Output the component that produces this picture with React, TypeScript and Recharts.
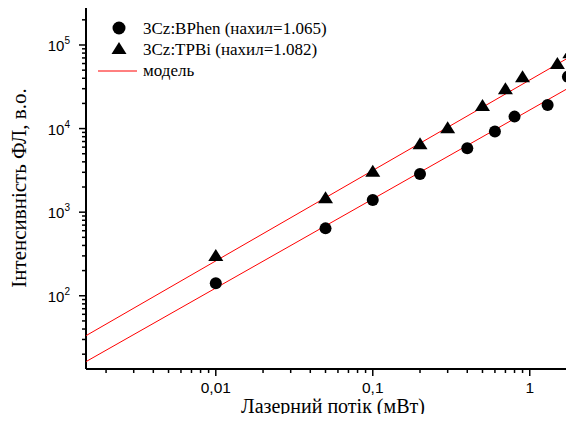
import { ComposedChart, Scatter, XAxis, YAxis, Legend } from "recharts";

// measured points (power in mW, PL intensity in a.u.)
const bphenX = [0.01, 0.05, 0.1, 0.2, 0.4, 0.6, 0.8, 1.3, 1.75];
const bphenY = [141, 640, 1400, 2860, 5800, 9200, 13900, 19100, 41800];
const tpbiX = [0.01, 0.05, 0.1, 0.2, 0.3, 0.5, 0.7, 0.9, 1.5, 1.8];
const tpbiY = [300, 1470, 3050, 6500, 10100, 18600, 29500, 41100, 59300, 79600];

// model lines (end points across the plot)
const modelX = [0.00149, 2];
const bphenModelY = [16.3, 34900];
const tpbiModelY = [33.3, 80700];

const xMajor = [0.01, 0.1, 1];
const xLabels = ["0,01", "0,1", "1"];
const xTicks = [
  0.002, 0.003, 0.004, 0.005, 0.006, 0.007, 0.008, 0.009, 0.01,
  0.02, 0.03, 0.04, 0.05, 0.06, 0.07, 0.08, 0.09, 0.1,
  0.2, 0.3, 0.4, 0.5, 0.6, 0.7, 0.8, 0.9, 1, 2,
];
const yMajor = [100, 1000, 10000, 100000];
const yExp = ["2", "3", "4", "5"];
const yTicks = [
  20, 30, 40, 50, 60, 70, 80, 90, 100,
  200, 300, 400, 500, 600, 700, 800, 900, 1000,
  2000, 3000, 4000, 5000, 6000, 7000, 8000, 9000, 10000,
  20000, 30000, 40000, 50000, 60000, 70000, 80000, 90000, 100000, 200000,
];

const legendNames = ["3Cz:BPhen (нахил=1.065)", "3Cz:TPBi (нахил=1.082)", "модель"];
const xTitle = "Лазерний потік (мВт)";
const yTitle = "Інтенсивність ФЛ, в.о.";

const zip = (xs, ys) => xs.map((x, i) => ({ x, y: ys[i] }));
const bphenData = zip(bphenX, bphenY);
const tpbiData = zip(tpbiX, tpbiY);
const bphenModel = zip(modelX, bphenModelY);
const tpbiModel = zip(modelX, tpbiModelY);

const SANS = "'Liberation Sans', Arial, sans-serif";
const SERIF = "'Liberation Serif', 'Times New Roman', serif";

const Dot = ({ cx, cy }) => <circle cx={cx} cy={cy} r={6} fill="#000" />;
const Tri = ({ cx, cy }) => (
  <path d={`M${cx},${cy - 7} L${cx + 7.5},${cy + 5} L${cx - 7.5},${cy + 5} Z`} fill="#000" />
);
const NoDot = () => null;

const XTick = ({ x, y, payload }) => {
  const i = xMajor.indexOf(payload.value);
  return (
    <g>
      <line x1={x} x2={x} y1={y} y2={y + (i >= 0 ? 7 : 4)} stroke="#000" strokeWidth={1.5} />
      {i >= 0 && (
        <text x={x} y={y + 24} textAnchor="middle" fontFamily={SANS} fontSize={15.5} fill="#000">
          {xLabels[i]}
        </text>
      )}
    </g>
  );
};

const YTick = ({ x, y, payload }) => {
  const i = yMajor.indexOf(payload.value);
  return (
    <g>
      <line x1={x} x2={x - (i >= 0 ? 7 : 4)} y1={y} y2={y} stroke="#000" strokeWidth={1.5} />
      {i >= 0 && (
        <text x={x - 16} y={y + 6} textAnchor="end" fontFamily={SANS} fontSize={15} fill="#000">
          10<tspan dy={-7} fontSize={10}>{yExp[i]}</tspan>
        </text>
      )}
    </g>
  );
};

const LegendBox = () => (
  <svg width={260} height={80}>
    <circle cx={29} cy={18} r={6.5} fill="#000" />
    <path d="M29,32 L36.5,44 L21.5,44 Z" fill="#000" />
    <line x1={8} x2={47} y1={61} y2={61} stroke="#ff0000" strokeWidth={1} />
    {legendNames.map((n, i) => (
      <text key={n} x={53} y={24 + i * 21} fontFamily={SERIF} fontSize={17} fill="#000">
        {n}
      </text>
    ))}
  </svg>
);

export default function App() {
  return (
    <div
      style={{ margin: -8, width: 574, height: 422, overflow: "hidden", background: "#fff", position: "relative" }}
    >
      <ComposedChart width={600} height={422} margin={{ top: 8, right: 23, bottom: 23, left: 40 }}>
        <XAxis
          dataKey="x"
          type="number"
          scale="log"
          domain={[0.00149, 2]}
          allowDataOverflow
          ticks={xTicks}
          interval={0}
          tick={XTick}
          tickLine={false}
          tickSize={0}
          tickMargin={0}
          height={30}
          axisLine={{ stroke: "#000", strokeWidth: 2 }}
        />
        <XAxis
          xAxisId="top"
          orientation="top"
          dataKey="x"
          type="number"
          scale="log"
          domain={[0.00149, 2]}
          allowDataOverflow
          tick={false}
          tickLine={false}
          height={0}
          axisLine={{ stroke: "#000", strokeWidth: 2 }}
        />
        <YAxis
          dataKey="y"
          type="number"
          scale="log"
          domain={[13.3, 277000]}
          allowDataOverflow
          ticks={yTicks}
          interval={0}
          tick={YTick}
          tickLine={false}
          tickSize={0}
          tickMargin={0}
          width={46}
          axisLine={{ stroke: "#000", strokeWidth: 2 }}
        />
        <Legend
          layout="horizontal"
          verticalAlign="middle"
          align="center"
          content={() => <LegendBox />}
          wrapperStyle={{ left: 90, top: 10, width: 260, height: 80 }}
        />
        <Scatter data={bphenModel} shape={NoDot} line={{ stroke: "#ff0000", strokeWidth: 1 }} isAnimationActive={false} />
        <Scatter data={tpbiModel} shape={NoDot} line={{ stroke: "#ff0000", strokeWidth: 1 }} isAnimationActive={false} />
        <Scatter data={bphenData} shape={Dot} isAnimationActive={false} />
        <Scatter data={tpbiData} shape={Tri} isAnimationActive={false} />
      </ComposedChart>
      <svg width={574} height={422} style={{ position: "absolute", left: 0, top: 0, pointerEvents: "none" }}>
        <text x={333} y={413} textAnchor="middle" fontFamily={SERIF} fontSize={20} fill="#000">
          {xTitle}
        </text>
        <text
          x={26}
          y={188}
          textAnchor="middle"
          transform="rotate(-90 26 188)"
          fontFamily={SERIF}
          fontSize={21}
          fill="#000"
        >
          {yTitle}
        </text>
      </svg>
    </div>
  );
}
